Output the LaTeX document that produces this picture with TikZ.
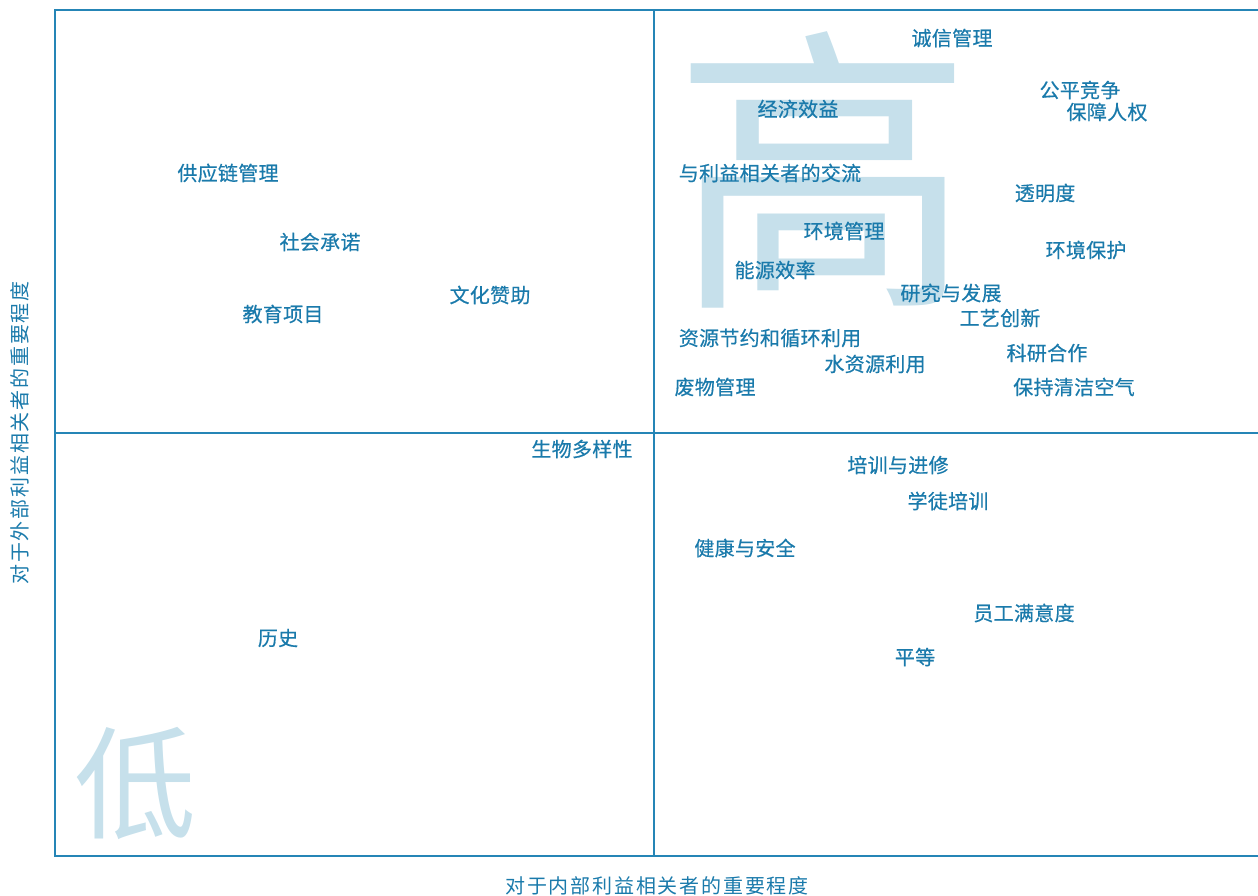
\documentclass[tikz,border=0pt]{standalone}
\usepackage{fontspec}
\setmainfont{Noto Sans CJK SC}
\newfontfamily\cjkwide[LetterSpace=9]{Noto Sans CJK SC}
\newfontfamily\lblfont[LetterSpace=1.5,FakeBold=0.5]{Noto Sans CJK SC}
\definecolor{txt}{HTML}{1A7AAB}
\definecolor{rule}{HTML}{2585B6}
\definecolor{bigc}{HTML}{C6E0EB}
\tikzset{
  lbl/.style={font=\lblfont\fontsize{20}{20}\selectfont, text=txt, inner sep=0pt},
  axislbl/.style={font=\cjkwide\fontsize{20}{22}\selectfont, text=txt, inner sep=0pt},
  bigchar/.style={text=bigc, inner sep=0pt},
  frame/.style={draw=rule, line width=1.4pt},
  cross/.style={draw=rule, line width=2.4pt}
}
\begin{document}
\begin{tikzpicture}[x=1pt,y=-1pt]
\useasboundingbox (0,0) rectangle (1258,896);
% big background characters
\node[bigchar, font=\fontsize{300}{300}\selectfont] (gao) at (823,170) {高};
\node[bigchar, font=\fontsize{122}{122}\selectfont] (di) at (135,783) {低};
% frame and cross
\draw[frame] (1258,10) -- (55,10) -- (55,856) -- (1258,856);
\draw[cross] (654,10) -- (654,856);
\draw[cross] (55,433) -- (1258,433);
% axis labels
\node[axislbl] (xlab) at (657,886) {对于内部利益相关者的重要程度};
\node[axislbl, rotate=90] (ylab) at (20,433) {对于外部利益相关者的重要程度};
% labels
\node[lbl] (n1) at (952,38) {诚信管理};
\node[lbl] (n2) at (1080,90) {公平竞争};
\node[lbl] (n3) at (1107,112) {保障人权};
\node[lbl] (n4) at (798,109) {经济效益};
\node[lbl] (n5) at (770,173) {与利益相关者的交流};
\node[lbl] (n6) at (228,173) {供应链管理};
\node[lbl] (n7) at (1045,193) {透明度};
\node[lbl] (n8) at (320,242) {社会承诺};
\node[lbl] (n9) at (844,231) {环境管理};
\node[lbl] (n10) at (1086,250) {环境保护};
\node[lbl] (n11) at (775,270) {能源效率};
\node[lbl] (n12) at (490,295) {文化赞助};
\node[lbl] (n13) at (951,293) {研究与发展};
\node[lbl] (n14) at (283,314) {教育项目};
\node[lbl] (n15) at (1000,318) {工艺创新};
\node[lbl] (n16) at (770,338) {资源节约和循环利用};
\node[lbl] (n17) at (1047,353) {科研合作};
\node[lbl] (n18) at (875,364) {水资源利用};
\node[lbl] (n19) at (715,387) {废物管理};
\node[lbl] (n20) at (1074,387) {保持清洁空气};
\node[lbl] (n21) at (582,449) {生物多样性};
\node[lbl] (n22) at (898,465) {培训与进修};
\node[lbl] (n23) at (948,501) {学徒培训};
\node[lbl] (n24) at (745,548) {健康与安全};
\node[lbl] (n25) at (1024,613) {员工满意度};
\node[lbl] (n26) at (915,657) {平等};
\node[lbl] (n27) at (278,638) {历史};
\end{tikzpicture}
\end{document}
